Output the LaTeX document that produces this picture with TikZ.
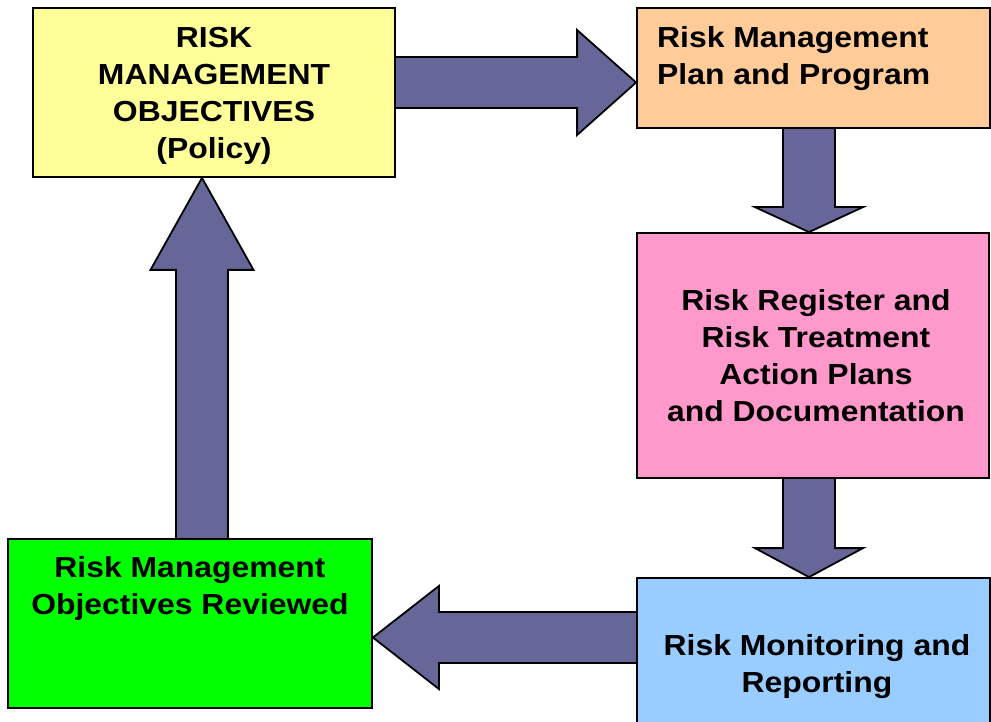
\documentclass[tikz,border=0pt]{standalone}
\usepackage{fontspec}
\setmainfont{Liberation Sans}[FakeStretch=1.1]
\usetikzlibrary{calc}
\pgfdeclarelayer{bg}
\pgfsetlayers{bg,main}
\definecolor{ylw}{HTML}{FFFF99}
\definecolor{org}{HTML}{FFCC99}
\definecolor{pnk}{HTML}{FF99CC}
\definecolor{blu}{HTML}{99CCFF}
\definecolor{grn}{HTML}{00FF00}
\definecolor{arrowc}{HTML}{666699}
\tikzset{
  box/.style={draw=black, line width=1.8pt, rectangle, inner sep=0pt},
  txt/.style={font=\bfseries\fontsize{29}{37}\selectfont, inner sep=0pt},
  flow/.style={fill=arrowc, draw=black, line width=1.8pt, line join=miter}
}
\begin{document}
\begin{tikzpicture}[x=1pt,y=-1pt]
\useasboundingbox (0,0) rectangle (991,722);
\begin{pgfonlayer}{bg}
\fill[white] (0,0) rectangle (991,722);
\end{pgfonlayer}
% boxes
\node[box, fill=ylw, minimum width=362pt, minimum height=169pt] (obj) at (214,92.5) {};
\node[box, fill=org, minimum width=353pt, minimum height=120pt] (plan) at (813.5,68) {};
\node[box, fill=pnk, minimum width=352pt, minimum height=245pt] (risk) at (813,355.5) {};
\node[box, fill=blu, minimum width=353pt, minimum height=162pt] (mon) at (813.5,659) {};
\node[box, fill=grn, minimum width=364pt, minimum height=169pt] (rev) at (190,623.5) {};
% texts (anchor = baseline of the last line)
\node[txt, align=center, anchor=base] (objt) at (214,159) {RISK\\MANAGEMENT\\OBJECTIVES\\(Policy)};
\node[txt, align=left, anchor=base west] (plant) at (657,85) {Risk Management\\Plan and Program};
\node[txt, align=center, anchor=base] (riskt) at (816,421) {Risk Register and\\Risk Treatment\\Action Plans\\and Documentation};
\node[txt, align=center, anchor=base] (mont) at (817,692) {Risk Monitoring and\\Reporting};
\node[txt, align=center, anchor=base] (revt) at (190,614) {Risk Management\\Objectives Reviewed};
% connector end points
\coordinate (s1) at (obj.east |- 0,82.5);
\coordinate (t1) at (plan.west |- 0,82.5);
\coordinate (s2) at (plan.south -| 809,0);
\coordinate (t2) at (risk.north -| 809,0);
\coordinate (s3) at (risk.south -| 809,0);
\coordinate (t3) at (mon.north -| 809,0);
\coordinate (s4) at (mon.west |- 0,637.5);
\coordinate (t4) at (rev.east |- 0,637.5);
\coordinate (s5) at (rev.north -| 202,0);
\coordinate (t5) at (obj.south -| 202,0);
\begin{pgfonlayer}{bg}
% objectives -> plan
\draw[flow] ($(s1)+(-8,-25.5)$) -- ($(t1)+(-59,-25.5)$) -- ($(t1)+(-59,-52.5)$) -- (t1)
  -- ($(t1)+(-59,52.5)$) -- ($(t1)+(-59,25.5)$) -- ($(s1)+(-8,25.5)$) -- cycle;
% plan -> register
\draw[flow] ($(s2)+(-26,-8)$) -- ($(t2)+(-26,-25)$) -- ($(t2)+(-54,-25)$) -- (t2)
  -- ($(t2)+(54,-25)$) -- ($(t2)+(26,-25)$) -- ($(s2)+(26,-8)$) -- cycle;
% register -> monitoring
\draw[flow] ($(s3)+(-26,-8)$) -- ($(t3)+(-26,-29)$) -- ($(t3)+(-54,-29)$) -- (t3)
  -- ($(t3)+(54,-29)$) -- ($(t3)+(26,-29)$) -- ($(s3)+(26,-8)$) -- cycle;
% monitoring -> reviewed
\draw[flow] ($(s4)+(8,-25.5)$) -- ($(t4)+(66,-25.5)$) -- ($(t4)+(66,-51.5)$) -- (t4)
  -- ($(t4)+(66,51.5)$) -- ($(t4)+(66,25.5)$) -- ($(s4)+(8,25.5)$) -- cycle;
% reviewed -> objectives
\draw[flow] ($(s5)+(-26,8)$) -- ($(t5)+(-26,92)$) -- ($(t5)+(-51.5,92)$) -- (t5)
  -- ($(t5)+(51.5,92)$) -- ($(t5)+(26,92)$) -- ($(s5)+(26,8)$) -- cycle;
\end{pgfonlayer}
\end{tikzpicture}
\end{document}
